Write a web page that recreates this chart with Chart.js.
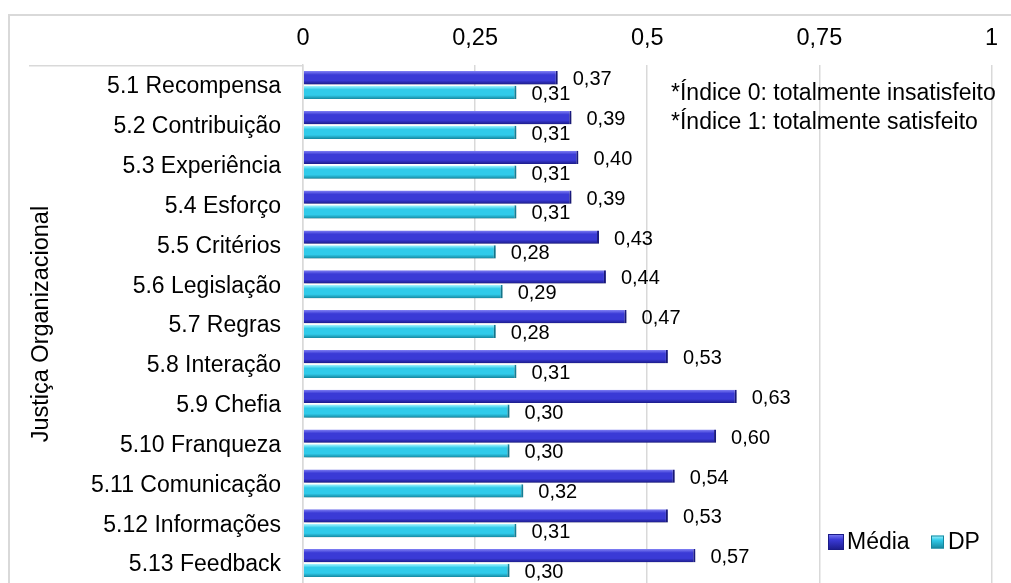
<!DOCTYPE html>
<html>
<head>
<meta charset="utf-8">
<script src="https://cdn.jsdelivr.net/npm/chart.js@4.4.1/dist/chart.umd.min.js"></script>
<style>
  html, body { margin: 0; padding: 0; background: #fff; overflow: hidden; width: 1011px; height: 583px; }
  canvas { display: block; }
</style>
</head>
<body>
<canvas id="c" width="1011" height="583"></canvas>
<script>
// Categories of the organisational-justice scale
const categories = [
  '5.1 Recompensa', '5.2 Contribuição', '5.3 Experiência', '5.4 Esforço',
  '5.5 Critérios', '5.6 Legislação', '5.7 Regras', '5.8 Interação',
  '5.9 Chefia', '5.10 Franqueza', '5.11 Comunicação', '5.12 Informações',
  '5.13 Feedback'
];
// Mean satisfaction index per item
const mediaValues = [0.37, 0.39, 0.40, 0.39, 0.43, 0.44, 0.47, 0.53, 0.63, 0.60, 0.54, 0.53, 0.57];
// Standard deviation per item
const dpValues = [0.31, 0.31, 0.31, 0.31, 0.28, 0.29, 0.28, 0.31, 0.30, 0.30, 0.32, 0.31, 0.30];
const seriesNames = ['Média', 'DP'];
const xTickLabels = ['0', '0,25', '0,5', '0,75', '1'];
const axisTitle = 'Justiça Organizacional';
const notes = ['*Índice 0: totalmente insatisfeito', '*Índice 1: totalmente satisfeito'];

const FONT = "'Liberation Sans', Arial, sans-serif";
const CAT_PCT = 0.74, BAR_PCT = 0.9;
const BOTTOM_OVERHANG = -5;   // the last row runs slightly past the canvas edge
const palette = [
  { light: '#8080f4', main: '#3a3ad6', dark: '#1b1b88' },
  { light: '#aaf5ff', main: '#30cbea', dark: '#15879f' }
];

const fmt = v => v.toFixed(2).replace('.', ',');

// Vertical bevel gradient for each bar, computed from the category band geometry
function bevelFill(di) {
  const p = palette[di];
  return (ctx) => {
    const chart = ctx.chart;
    const y = chart.scales && chart.scales.y;
    if (ctx.type !== 'data' || !y || !isFinite(y.top) || !isFinite(y.bottom) || y.bottom <= y.top) return p.main;
    const n = chart.data.labels.length;
    const band = (y.bottom - y.top) / n;
    const center = y.getPixelForValue(ctx.dataIndex);
    const slot = band * CAT_PCT / 2;
    const thick = slot * BAR_PCT;
    const c = center - band * CAT_PCT / 2 + slot * di + slot / 2;
    if (!isFinite(c)) return p.main;
    const g = chart.ctx.createLinearGradient(0, c - thick / 2, 0, c + thick / 2);
    g.addColorStop(0, p.light);
    g.addColorStop(0.28, p.main);
    g.addColorStop(0.7, p.main);
    g.addColorStop(1, p.dark);
    return g;
  };
}

// Bar shadows and value labels
const valueLabels = {
  id: 'valueLabels',
  beforeDatasetsDraw(chart) {
    const c = chart.ctx;
    c.save();
    c.shadowColor = 'rgba(0,0,0,0.28)';
    c.shadowBlur = 3;
    c.shadowOffsetX = 1;
    c.shadowOffsetY = 2;
  },
  afterDatasetsDraw(chart) {
    const c = chart.ctx;
    c.restore();
    c.save();
    c.font = `20px ${FONT}`;
    c.fillStyle = '#000';
    c.textAlign = 'left';
    c.textBaseline = 'middle';
    chart.data.datasets.forEach((ds, di) => {
      chart.getDatasetMeta(di).data.forEach((el, i) => {
        c.fillText(fmt(ds.data[i]), el.x + 15, el.y + 2);
      });
    });
    c.restore();
  }
};

// Frame, group label, notes and legend
const decorations = {
  id: 'decorations',
  beforeDraw(chart) {
    const c = chart.ctx;
    c.save();
    c.fillStyle = '#fff';
    c.fillRect(0, 0, chart.width, chart.height);
    c.strokeStyle = '#d9d9d9';
    c.lineWidth = 2;
    c.strokeRect(9, 15, 1200, 900);
    c.restore();
  },
  afterDraw(chart) {
    const c = chart.ctx;
    const a = chart.chartArea;
    c.save();
    // group separator of the category axis
    c.strokeStyle = '#d9d9d9';
    c.lineWidth = 1.5;
    c.beginPath();
    c.moveTo(29, a.top + 0.5);
    c.lineTo(a.left, a.top + 0.5);
    c.stroke();

    // group label
    c.fillStyle = '#000';
    c.font = `23.5px ${FONT}`;
    c.textAlign = 'center';
    c.textBaseline = 'middle';
    c.save();
    c.translate(42, (a.top + a.bottom) / 2);
    c.rotate(-Math.PI / 2);
    c.fillText(axisTitle, 0, 0);
    c.restore();

    // notes
    c.font = `23px ${FONT}`;
    c.textAlign = 'left';
    c.fillText(notes[0], 671, 94);
    c.fillText(notes[1], 671, 123);

    // legend
    const ly = 542;
    const items = [
      { name: seriesNames[0], mx: 828, tx: 847, w: 16, h: 16 },
      { name: seriesNames[1], mx: 931, tx: 948, w: 13, h: 13 }
    ];
    items.forEach((it, i) => {
      const p = palette[i];
      const g = c.createLinearGradient(0, ly - it.h / 2, 0, ly + it.h / 2);
      g.addColorStop(0, p.light);
      g.addColorStop(0.35, p.main);
      g.addColorStop(1, p.dark);
      c.fillStyle = g;
      c.fillRect(it.mx, ly - it.h / 2, it.w, it.h);
      c.strokeStyle = p.dark;
      c.lineWidth = 1;
      c.strokeRect(it.mx + 0.5, ly - it.h / 2 + 0.5, it.w - 1, it.h - 1);
      c.fillStyle = '#000';
      c.fillText(it.name, it.tx, ly + 1);
    });
    c.restore();
  }
};

new Chart(document.getElementById('c'), {
  type: 'bar',
  data: {
    labels: categories,
    datasets: [
      {
        label: seriesNames[0],
        data: mediaValues,
        backgroundColor: bevelFill(0),
        borderColor: palette[0].dark,
        borderWidth: { top: 0, right: 2, bottom: 0, left: 0 },
        borderSkipped: false,
        categoryPercentage: CAT_PCT,
        barPercentage: BAR_PCT
      },
      {
        label: seriesNames[1],
        data: dpValues,
        backgroundColor: bevelFill(1),
        borderColor: palette[1].dark,
        borderWidth: { top: 0, right: 2, bottom: 0, left: 0 },
        borderSkipped: false,
        categoryPercentage: CAT_PCT,
        barPercentage: BAR_PCT
      }
    ]
  },
  options: {
    indexAxis: 'y',
    responsive: false,
    animation: false,
    devicePixelRatio: 1,
    layout: { padding: { top: 11, right: 18, bottom: BOTTOM_OVERHANG, left: 0 } },
    plugins: {
      legend: { display: false },
      tooltip: { enabled: false }
    },
    scales: {
      x: {
        position: 'top',
        min: 0,
        max: 1,
        ticks: {
          stepSize: 0.25,
          padding: 13,
          color: '#000',
          font: { family: FONT, size: 23.5 },
          callback: (v, i) => xTickLabels[i]
        },
        grid: { color: '#d9d9d9', lineWidth: 1.5, drawTicks: false },
        border: { display: false }
      },
      y: {
        ticks: {
          padding: 22,
          labelOffset: 2,
          color: '#000',
          font: { family: FONT, size: 23 }
        },
        grid: { display: false, drawTicks: false },
        border: { display: true, color: '#d9d9d9', width: 1.5 },
        afterFit(scale) {
          scale.width = 303;
          scale.paddingTop = 0;
          scale.paddingBottom = BOTTOM_OVERHANG;
        }
      }
    }
  },
  plugins: [decorations, valueLabels]
});
</script>
</body>
</html>
